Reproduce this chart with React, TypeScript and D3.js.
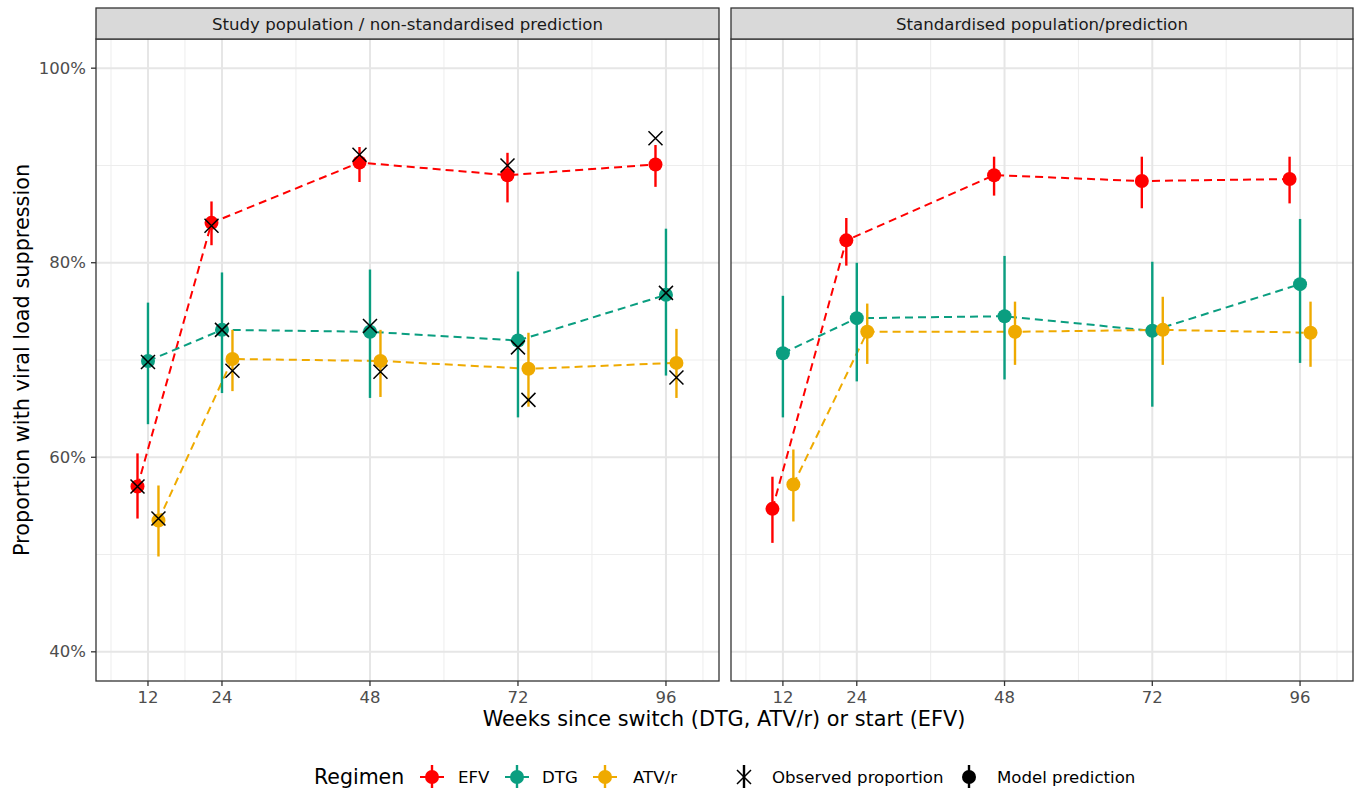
import React from "react";
import * as d3 from "d3";

// weeks of follow-up
const weeks = [12, 24, 48, 72, 96];
const regimens = ["EFV", "DTG", "ATV/r"];
const regimenColors = ["#FF0000", "#0A9E80", "#EFAA00"];
const panelTitles = [
  "Study population / non-standardised prediction",
  "Standardised population/prediction",
];
const yTicks = [0.4, 0.6, 0.8, 1.0];
const yMinor = [0.5, 0.7, 0.9];
const xMinor = [6, 18, 36, 60, 84, 102];

// study population: model prediction, CI and observed proportion (%)
const studyEFV = [57.0, 84.1, 90.3, 89.0, 90.1];
const studyEFVLo = [53.7, 81.8, 88.3, 86.2, 87.8];
const studyEFVHi = [60.4, 86.3, 91.9, 91.3, 92.1];
const studyEFVObs = [57.0, 83.8, 91.1, 90.0, 92.8];

const studyDTG = [69.9, 73.1, 72.9, 72.0, 76.7];
const studyDTGLo = [63.4, 66.6, 66.1, 64.1, 68.4];
const studyDTGHi = [75.9, 79.0, 79.3, 79.1, 83.5];
const studyDTGObs = [69.8, 73.1, 73.5, 71.3, 76.9];

const studyATV = [53.5, 70.1, 69.9, 69.1, 69.7];
const studyATVLo = [49.8, 66.8, 66.2, 65.2, 66.1];
const studyATVHi = [57.1, 73.1, 73.1, 72.8, 73.2];
const studyATVObs = [53.7, 68.9, 68.8, 65.9, 68.2];

// standardised population: model prediction and CI (%)
const stdEFV = [54.7, 82.3, 89.0, 88.4, 88.6];
const stdEFVLo = [51.2, 79.7, 86.9, 85.6, 86.1];
const stdEFVHi = [58.0, 84.6, 90.9, 90.9, 90.9];

const stdDTG = [70.7, 74.3, 74.5, 73.0, 77.8];
const stdDTGLo = [64.1, 67.8, 68.0, 65.2, 69.7];
const stdDTGHi = [76.6, 80.0, 80.7, 80.1, 84.5];

const stdATV = [57.2, 72.9, 72.9, 73.1, 72.8];
const stdATVLo = [53.4, 69.6, 69.5, 69.5, 69.3];
const stdATVHi = [60.8, 75.8, 76.0, 76.5, 76.0];

type Series = { est: number[]; lo: number[]; hi: number[]; obs?: number[] };

const panels: Series[][] = [
  [
    { est: studyEFV, lo: studyEFVLo, hi: studyEFVHi, obs: studyEFVObs },
    { est: studyDTG, lo: studyDTGLo, hi: studyDTGHi, obs: studyDTGObs },
    { est: studyATV, lo: studyATVLo, hi: studyATVHi, obs: studyATVObs },
  ],
  [
    { est: stdEFV, lo: stdEFVLo, hi: stdEFVHi },
    { est: stdDTG, lo: stdDTGLo, hi: stdDTGHi },
    { est: stdATV, lo: stdATVLo, hi: stdATVHi },
  ],
];

const W = 1357;
const H = 788;
const FONT = "DejaVu Sans, sans-serif";
const panelX = [
  [96, 719],
  [731, 1353],
];
const stripTop = 8;
const plotTop = 39;
const plotBottom = 681;
const dodge = [-1.7, 0, 1.7];

const y = d3.scaleLinear().domain([0.37, 1.03]).range([plotBottom, plotTop]);

const Cross = ({ x, y, s = 7 }: { x: number; y: number; s?: number }) => (
  <path
    d={`M${x - s},${y - s}L${x + s},${y + s}M${x - s},${y + s}L${x + s},${y - s}`}
    stroke="#000"
    strokeWidth={1.5}
    fill="none"
  />
);

const Panel = ({ idx }: { idx: number }) => {
  const [x0, x1] = panelX[idx];
  const x = d3.scaleLinear().domain([3.57, 104.6]).range([x0, x1]);
  const data = panels[idx];
  const line = d3
    .line<[number, number]>()
    .x((d) => x(d[0]))
    .y((d) => y(d[1] / 100));
  return (
    <g>
      <rect x={x0} y={plotTop} width={x1 - x0} height={plotBottom - plotTop} fill="#fff" />
      {yMinor.map((t) => (
        <line key={"ym" + t} x1={x0} x2={x1} y1={y(t)} y2={y(t)} stroke="#EDEDED" strokeWidth={1} />
      ))}
      {xMinor.map((t) => (
        <line key={"xm" + t} x1={x(t)} x2={x(t)} y1={plotTop} y2={plotBottom} stroke="#EDEDED" strokeWidth={1} />
      ))}
      {yTicks.map((t) => (
        <line key={"y" + t} x1={x0} x2={x1} y1={y(t)} y2={y(t)} stroke="#E6E6E6" strokeWidth={2} />
      ))}
      {weeks.map((t) => (
        <line key={"x" + t} x1={x(t)} x2={x(t)} y1={plotTop} y2={plotBottom} stroke="#E6E6E6" strokeWidth={2} />
      ))}
      {/* dashed trajectories */}
      {data.map((s, i) => (
        <path
          key={"l" + i}
          d={line(weeks.map((w, j) => [w + dodge[i], s.est[j]]) as [number, number][]) || ""}
          fill="none"
          stroke={regimenColors[i]}
          strokeWidth={2}
          strokeDasharray="8,5"
        />
      ))}
      {/* point ranges */}
      {data.map((s, i) =>
        weeks.map((w, j) => (
          <g key={"p" + i + "-" + j}>
            <line
              x1={x(w + dodge[i])}
              x2={x(w + dodge[i])}
              y1={y(s.lo[j] / 100)}
              y2={y(s.hi[j] / 100)}
              stroke={regimenColors[i]}
              strokeWidth={2.4}
            />
            <circle cx={x(w + dodge[i])} cy={y(s.est[j] / 100)} r={7} fill={regimenColors[i]} />
          </g>
        ))
      )}
      {/* observed proportions */}
      {data.map((s, i) =>
        s.obs
          ? weeks.map((w, j) => <Cross key={"o" + i + "-" + j} x={x(w + dodge[i])} y={y(s.obs![j] / 100)} />)
          : null
      )}
      <rect
        x={x0}
        y={plotTop}
        width={x1 - x0}
        height={plotBottom - plotTop}
        fill="none"
        stroke="#333"
        strokeWidth={1.3}
      />
      {/* strip */}
      <rect
        x={x0}
        y={stripTop}
        width={x1 - x0}
        height={plotTop - stripTop}
        fill="#D9D9D9"
        stroke="#333"
        strokeWidth={1.3}
      />
      <text
        x={(x0 + x1) / 2}
        y={(stripTop + plotTop) / 2 + 1}
        textAnchor="middle"
        dominantBaseline="central"
        fontSize={16.6}
        fill="#1A1A1A"
      >
        {panelTitles[idx]}
      </text>
      {/* x axis */}
      {weeks.map((t) => (
        <g key={"xt" + t}>
          <line x1={x(t)} x2={x(t)} y1={plotBottom} y2={plotBottom + 5} stroke="#333" strokeWidth={1.3} />
          <text x={x(t)} y={697} textAnchor="middle" dominantBaseline="central" fontSize={16.5} fill="#4D4D4D">
            {t}
          </text>
        </g>
      ))}
    </g>
  );
};

const LegendKey = ({ cx, color, shape }: { cx: number; color: string; shape: "pr" | "x" | "dot" }) => {
  const cy = 777;
  return (
    <g>
      {shape === "pr" && <line x1={cx - 12} x2={cx + 12} y1={cy} y2={cy} stroke={color} strokeWidth={2} />}
      <line x1={cx} x2={cx} y1={cy - 12} y2={cy + 12} stroke={color} strokeWidth={2.4} />
      {shape === "x" ? <Cross x={cx} y={cy} s={7} /> : <circle cx={cx} cy={cy} r={7} fill={color} />}
    </g>
  );
};

export default function App() {
  const legendX = [432, 517, 605];
  const legendTextX = [458, 542, 633];
  return (
    <svg
      width={W}
      height={H}
      style={{ position: "absolute", left: 0, top: 0, display: "block" }}
      fontFamily={FONT}
    >
      <rect width={W} height={H} fill="#fff" />
      <Panel idx={0} />
      <Panel idx={1} />
      {/* y axis */}
      {yTicks.map((t) => (
        <g key={"yt" + t}>
          <line x1={91} x2={96} y1={y(t)} y2={y(t)} stroke="#333" strokeWidth={1.3} />
          <text x={86} y={y(t)} textAnchor="end" dominantBaseline="central" fontSize={16.5} fill="#4D4D4D">
            {d3.format(".0%")(t)}
          </text>
        </g>
      ))}
      <text
        transform={`translate(22,${(plotTop + plotBottom) / 2}) rotate(-90)`}
        textAnchor="middle"
        dominantBaseline="central"
        fontSize={20.8}
        fill="#000"
      >
        Proportion with viral load suppression
      </text>
      <text x={724} y={719} textAnchor="middle" dominantBaseline="central" fontSize={20.8} fill="#000">
        Weeks since switch (DTG, ATV/r) or start (EFV)
      </text>
      {/* legend */}
      <text x={314} y={777} dominantBaseline="central" fontSize={20.5} fill="#000">
        Regimen
      </text>
      {regimens.map((r, i) => (
        <g key={r}>
          <LegendKey cx={legendX[i]} color={regimenColors[i]} shape="pr" />
          <text x={legendTextX[i]} y={777} dominantBaseline="central" fontSize={16.6} fill="#000">
            {r}
          </text>
        </g>
      ))}
      <LegendKey cx={744} color="#000" shape="x" />
      <text x={772} y={777} dominantBaseline="central" fontSize={16.6} fill="#000">
        Observed proportion
      </text>
      <LegendKey cx={969} color="#000" shape="dot" />
      <text x={997} y={777} dominantBaseline="central" fontSize={16.6} fill="#000">
        Model prediction
      </text>
    </svg>
  );
}
